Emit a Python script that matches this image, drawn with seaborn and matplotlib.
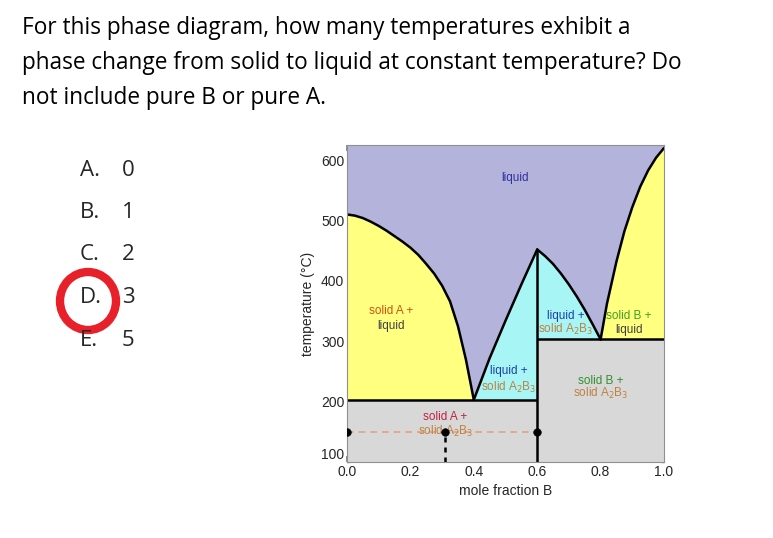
import matplotlib
matplotlib.use("Agg")
import matplotlib.pyplot as plt
from matplotlib.patches import Ellipse
import seaborn as sns
import numpy as np

# Boundary curves (mole fraction B, temperature in C)
liq_a_x = [0.0, 0.025, 0.05, 0.075, 0.1, 0.125, 0.15, 0.175, 0.2, 0.225, 0.25,
           0.275, 0.3, 0.325, 0.35, 0.375, 0.4]
liq_a_t = [510, 508, 504, 498, 491, 483, 474, 465, 455, 443, 428,
           412, 392, 366, 325, 270, 203]
comp_left_x = [0.4, 0.45, 0.5, 0.55, 0.6]
comp_left_t = [203, 272, 334, 394, 452]
comp_right_x = [0.6, 0.625, 0.65, 0.675, 0.7, 0.725, 0.75, 0.775, 0.8]
comp_right_t = [452, 441, 428, 412, 394, 374, 352, 328, 303]
liq_b_x = [0.8, 0.82, 0.85, 0.875, 0.9, 0.925, 0.95, 0.975, 1.0]
liq_b_t = [303, 362, 432, 482, 522, 556, 583, 604, 620]
eutectic_t = [203, 303]
dashed_t = 150
dot_x = [0.0, 0.31, 0.6]

question = ("For this phase diagram, how many temperatures exhibit a\n"
            "phase change from solid to liquid at constant temperature? Do\n"
            "not include pure B or pure A.")
option_letters = ["A.", "B.", "C.", "D.", "E."]
option_values = ["0", "1", "2", "3", "5"]

sns.set_theme(style="ticks")
plt.rcParams["font.family"] = ["Liberation Sans", "DejaVu Sans"]

fig = plt.figure(figsize=(7.73, 5.38), dpi=100)
fig.patch.set_facecolor("white")

fig.text(22 / 773, 1 - 16 / 538, question, fontsize=16.3, family="Open Sans",
         va="top", ha="left", linespacing=1.6, color="black")
for i, (let, val) in enumerate(zip(option_letters, option_values)):
    y = 1 - (170 + i * 42.5) / 538
    fig.text(80 / 773, y, let, fontsize=16, family="Open Sans", va="center")
    fig.text(122 / 773, y, val, fontsize=16, family="Open Sans", va="center")
fig.add_artist(Ellipse((88 / 773, 1 - 301 / 538), 56 / 773, 58 / 538,
                       transform=fig.transFigure, fill=False,
                       edgecolor="#e8202a", linewidth=6))

ax = fig.add_axes([347 / 773, 1 - 462 / 538, 317 / 773, 317 / 538])
xmin, xmax, tmin, tmax = 0.0, 1.0, 100, 625

purple, yellow, cyan, grey = "#b3b3dc", "#ffff80", "#a8f5f5", "#d8d8d8"
ax.fill_between([xmin, xmax], tmin, tmax, color=purple, lw=0)
ax.fill_between(liq_a_x, eutectic_t[0], liq_a_t, color=yellow, lw=0)
ax.fill_between(comp_left_x, eutectic_t[0], comp_left_t, color=cyan, lw=0)
ax.fill_between(comp_right_x, eutectic_t[1], comp_right_t, color=cyan, lw=0)
ax.fill_between(liq_b_x, eutectic_t[1], liq_b_t, color=yellow, lw=0)
ax.fill_between([0.0, 0.6], tmin, eutectic_t[0], color=grey, lw=0)
ax.fill_between([0.6, 1.0], tmin, eutectic_t[1], color=grey, lw=0)

for xs, ts in [(liq_a_x, liq_a_t), (comp_left_x, comp_left_t),
               (comp_right_x, comp_right_t), (liq_b_x, liq_b_t)]:
    sns.lineplot(x=xs, y=ts, ax=ax, color="black", lw=1.8, sort=False,
                 estimator=None)
ax.hlines(eutectic_t[0], 0.0, 0.6, color="black", lw=1.8)
ax.hlines(eutectic_t[1], 0.6, 1.0, color="black", lw=1.8)
ax.vlines(0.6, tmin, 452, color="black", lw=1.8)
ax.hlines(dashed_t, 0.0, 0.6, color="#e8a080", lw=1.2, linestyles=(0, (4, 3)))
ax.vlines(dot_x[1], tmin, dashed_t, color="black", lw=1.8,
          linestyles=(0, (2, 2)))
sns.scatterplot(x=dot_x, y=[dashed_t] * 3, ax=ax, color="black", s=30,
                zorder=5, edgecolor="black")

fs = 8.5
ax.text(0.53, 565, "liquid", color="#3030a0", fontsize=fs, ha="center")
ax.text(0.14, 345, "solid A +", color="#d05010", fontsize=fs, ha="center")
ax.text(0.14, 320, "liquid", color="#404040", fontsize=fs, ha="center")
ax.text(0.51, 245, "liquid +", color="#1a40b0", fontsize=fs, ha="center")
ax.text(0.51, 218, "solid A$_2$B$_3$", color="#c08040", fontsize=fs, ha="center")
ax.text(0.69, 337, "liquid +", color="#1a40b0", fontsize=fs, ha="center")
ax.text(0.69, 313, "solid A$_2$B$_3$", color="#c08040", fontsize=fs, ha="center")
ax.text(0.89, 337, "solid B +", color="#40a020", fontsize=fs, ha="center")
ax.text(0.89, 313, "liquid", color="#404040", fontsize=fs, ha="center")
ax.text(0.80, 230, "solid B +", color="#30902a", fontsize=fs, ha="center")
ax.text(0.80, 207, "solid A$_2$B$_3$", color="#c08040", fontsize=fs, ha="center")
ax.text(0.31, 170, "solid A +", color="#c02040", fontsize=fs, ha="center")
ax.text(0.31, 145, "solid A$_2$B$_3$", color="#c08040", fontsize=fs, ha="center")

ax.set_xlim(xmin, xmax)
ax.set_ylim(tmin, tmax)
ax.set_xticks([0.0, 0.2, 0.4, 0.6, 0.8, 1.0])
ax.set_xticklabels(["0.0", "0.2", "0.4", "0.6", "0.8", "1.0"])
ax.set_yticks([200, 300, 400, 500, 600])
ax.set_xticks(np.arange(0, 1.01, 0.05), minor=True)
ax.set_yticks(np.arange(100, 626, 20), minor=True)
ax.tick_params(direction="in", top=True, right=True, labelsize=10,
               length=4, color="#808080", pad=2)
ax.tick_params(which="minor", direction="in", top=True, right=True,
               length=2, color="#808080")
ax.text(-0.01, 100, "100", fontsize=10, ha="right", va="bottom",
        transform=ax.get_yaxis_transform())
for s in ax.spines.values():
    s.set_color("#909090")
    s.set_linewidth(0.8)
ax.set_xlabel("mole fraction B", fontsize=10)
ax.set_ylabel("temperature (\u00b0C)", fontsize=10)

fig.savefig("out.png", dpi=100)
